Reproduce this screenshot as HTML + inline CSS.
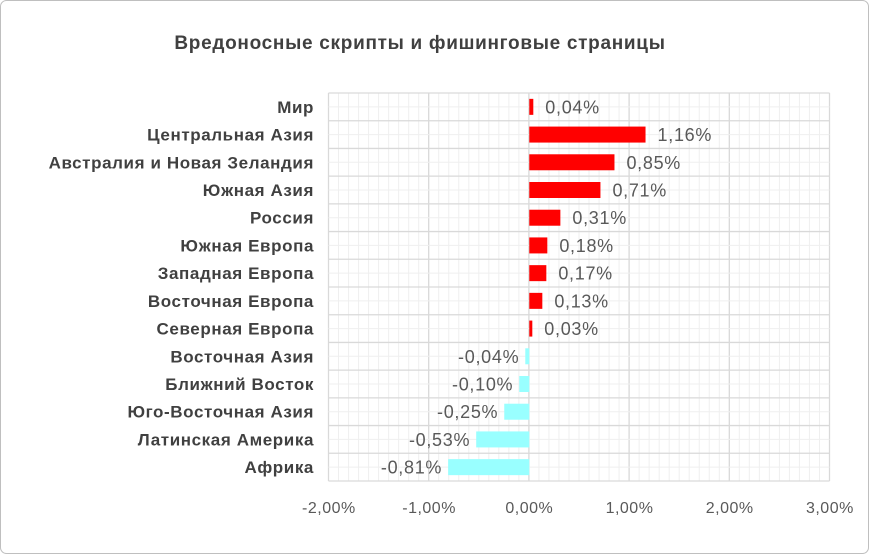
<!DOCTYPE html>
<html><head><meta charset="utf-8"><style>
body{margin:0;background:#fff}
svg{display:block;font-family:"Liberation Sans","DejaVu Sans",sans-serif}
</style></head><body>
<svg id="s" width="869" height="554" xmlns="http://www.w3.org/2000/svg">
<rect x="0.5" y="0.5" width="868" height="553" rx="6" fill="#fff" stroke="#bfbfbf"/>
<text x="420" y="49" text-anchor="middle" font-size="19" font-weight="bold" fill="#404040" letter-spacing="0.7">Вредоносные скрипты и фишинговые страницы</text>
<g id="g"></g>
</svg>
<script>
var g=document.getElementById('g'),h='';
var L=328.5,R=829.5,T=93,B=481,Z=529.3,S=100.2,rh=(B-T)/14;
for(var i=0;i<=50;i++){var x=L+i*S/10;h+='<line x1="'+x+'" y1="'+T+'" x2="'+x+'" y2="'+B+'" stroke="'+(i%10==0?'#d9d9d9':'#efefef')+'" stroke-width="'+(i%10==0?1.3:1)+'"/>';}
for(var j=0;j<=28;j++){var y=T+j*rh/2;h+='<line x1="'+L+'" y1="'+y+'" x2="'+R+'" y2="'+y+'" stroke="'+(j%2==0?'#d9d9d9':'#efefef')+'" stroke-width="'+(j%2==0?1.3:1)+'"/>';}
var d=[["Мир",0.04],["Центральная Азия",1.16],["Австралия и Новая Зеландия",0.85],["Южная Азия",0.71],["Россия",0.31],["Южная Европа",0.18],["Западная Европа",0.17],["Восточная Европа",0.13],["Северная Европа",0.03],["Восточная Азия",-0.04],["Ближний Восток",-0.10],["Юго-Восточная Азия",-0.25],["Латинская Америка",-0.53],["Африка",-0.81]];
d.forEach(function(r,k){var cy=T+rh*(k+0.5),v=r[1],w=Math.abs(v)*S,x=v>=0?Z:Z-w;
h+='<rect x="'+x+'" y="'+(cy-8)+'" width="'+Math.max(w,2.5)+'" height="16" fill="'+(v>=0?'#ff0000':'#99ffff')+'"/>';
var lab=(v<0?'-':'')+Math.abs(v).toFixed(2).replace('.',',')+'%';
if(v>=0)h+='<text x="'+(Z+w+12)+'" y="'+(cy+6.5)+'" font-size="18" letter-spacing="0.7" fill="#595959">'+lab+'</text>';
else h+='<text x="'+(x-6)+'" y="'+(cy+6.5)+'" font-size="18" letter-spacing="0.7" fill="#595959" text-anchor="end">'+lab+'</text>';
h+='<text x="314" y="'+(cy+6)+'" font-size="17" letter-spacing="0.6" font-weight="bold" fill="#404040" text-anchor="end">'+r[0]+'</text>';});
for(var t=-2;t<=3;t++){h+='<text x="'+(Z+t*S)+'" y="513" font-size="16" letter-spacing="0.5" fill="#595959" text-anchor="middle">'+(t<0?'-':'')+Math.abs(t)+',00%</text>';}
g.innerHTML=h;
</script>
</body></html>
